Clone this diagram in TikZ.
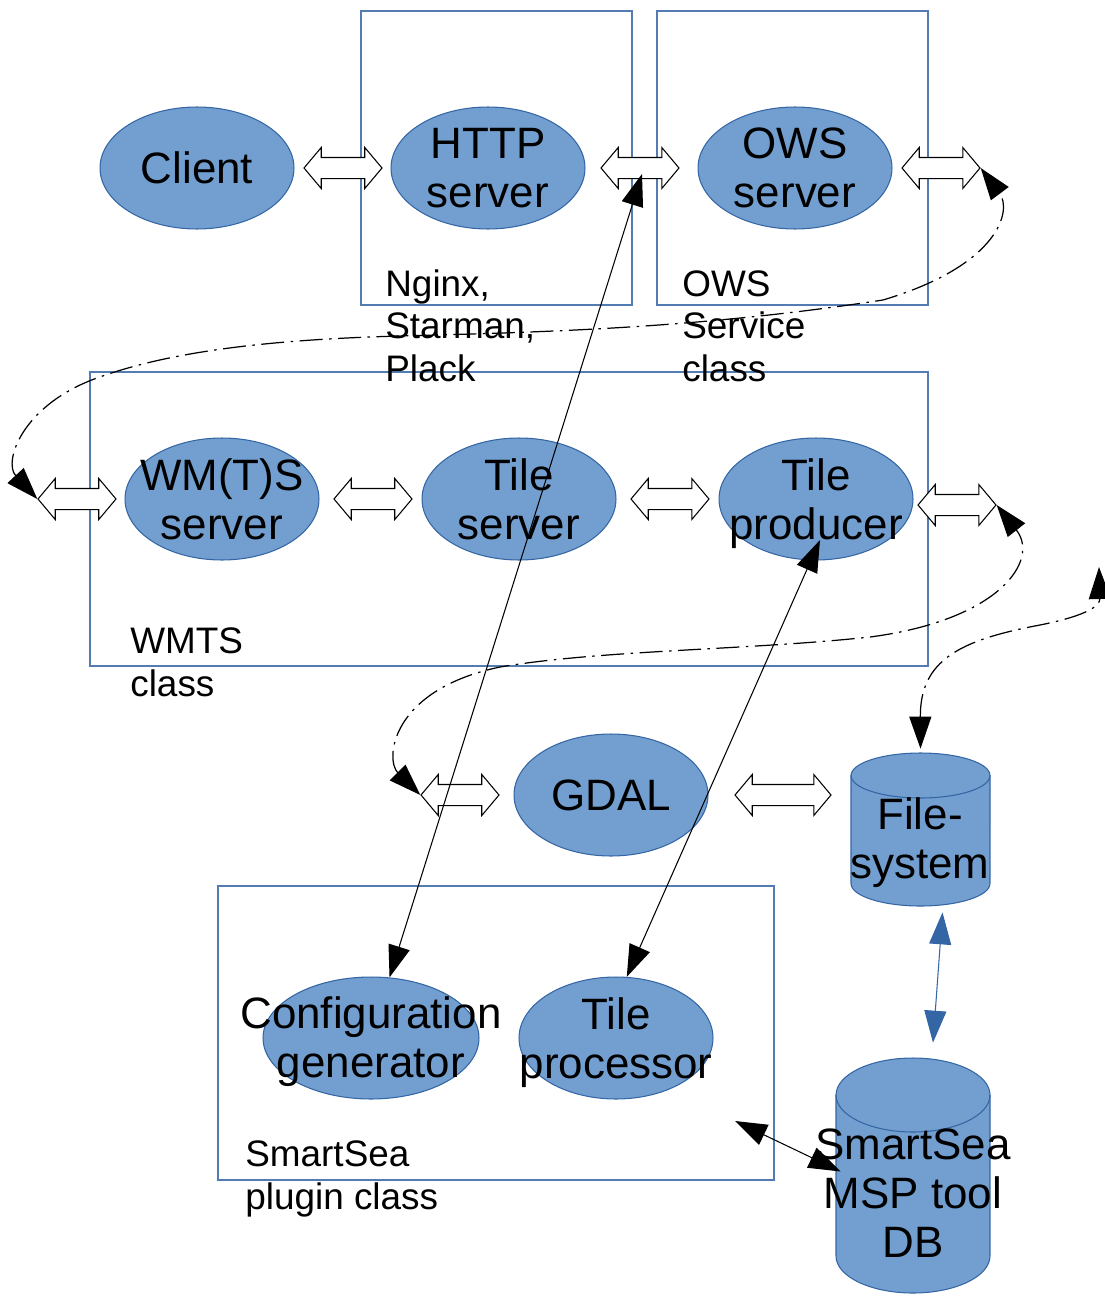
\documentclass[tikz,border=0pt]{standalone}
\usepackage{fontspec}
\setmainfont{Liberation Sans}
\usetikzlibrary{shapes.geometric,shapes.arrows,arrows.meta,calc}
\definecolor{fillblue}{HTML}{729FCF}
\definecolor{lineblue}{HTML}{3465A4}
\begin{document}
\begin{tikzpicture}[
    x=0.02cm, y=-0.02cm,
    frame/.style={draw=lineblue!85, line width=0.6pt},
    blob/.style={ellipse, draw=lineblue, fill=fillblue, line width=0.6pt, minimum width=3.88cm, minimum height=2.44cm, inner sep=0pt},
    can/.style={draw=lineblue, fill=fillblue, line width=0.6pt},
    slot/.style={inner sep=0pt},
    big/.style={font=\fontsize{25}{28}\selectfont, align=center, inner sep=0pt},
    note/.style={font=\fontsize{21}{24}\selectfont, align=left, anchor=base west, inner sep=0pt},
    twin/.style={double arrow, draw=black, fill=white, line width=0.6pt, double arrow head extend=0.2cm, double arrow tip angle=100, inner xsep=0pt, inner ysep=0.2cm, minimum height=1.56cm},
    link/.style={line width=0.6pt, {Triangle[length=0.64cm,width=0.44cm]}-{Triangle[length=0.64cm,width=0.44cm]}},
    dashlink/.style={link, line width=0.7pt, dash pattern=on 0.46cm off 0.13cm on 0.05cm off 0.13cm},
]
\useasboundingbox (0,0) rectangle (1105,1298);

% Frames
\draw[frame] (361,11) rectangle (632,305);
\draw[frame] (657,11) rectangle (928,305);
\draw[frame] (90,372) rectangle (928,666);
\draw[frame] (218,886) rectangle (774,1180);

% Components
\node[blob] (client) at (197,168) {};
\node[blob] (http) at (488,168) {};
\node[blob] (ows) at (795,168) {};
\node[blob] (wms) at (222,499) {};
\node[blob] (tsrv) at (519,499) {};
\node[blob] (prod) at (816,499) {};
\node[blob] (gdal) at (611,795) {};
\node[blob, minimum width=4.32cm] (cfg) at (371,1038) {};
\node[blob] (proc) at (616,1038) {};

% Storage drums
\node[slot, minimum width=2.78cm, minimum height=3.06cm] (fs) at (920.5,829.5) {};
\filldraw[can] (851,775.5) -- (851,883.5) arc[start angle=180, end angle=360, x radius=1.39cm, y radius=0.45cm]
  -- (990,775.5) arc[start angle=0, end angle=180, x radius=1.39cm, y radius=0.45cm] -- cycle;
\draw[can, fill=none] (851,775.5) arc[start angle=180, end angle=360, x radius=1.39cm, y radius=0.45cm];
\node[slot, minimum width=3.08cm, minimum height=4.7cm] (db) at (913,1175.5) {};
\filldraw[can] (836,1095) -- (836,1256) arc[start angle=180, end angle=360, x radius=1.54cm, y radius=0.74cm]
  -- (990,1095) arc[start angle=0, end angle=180, x radius=1.54cm, y radius=0.74cm] -- cycle;
\draw[can, fill=none] (836,1095) arc[start angle=180, end angle=360, x radius=1.54cm, y radius=0.74cm];

% Double arrows
\node[twin] (a1) at (343,168) {};
\node[twin] (a2) at (640,168) {};
\node[twin] (a3) at (941,168) {};
\node[twin] (b1) at (77,499) {};
\node[twin] (b2) at (373,499) {};
\node[twin] (b3) at (670,499) {};
\node[twin] (b4) at (957,505) {};
\node[twin] (c1) at (460,795) {};
\node[twin, minimum height=1.92cm] (c2) at (783,795) {};

% Texts
\node[big] (clientt) at (client) {Client};
\node[big] (httpt) at (http) {HTTP\\server};
\node[big] (owst) at (ows) {OWS\\server};
\node[big] (wmst) at (wms) {WM(T)S\\server};
\node[big] (tsrvt) at (tsrv) {Tile\\server};
\node[big] (prodt) at ($(prod)+(0,5)$) {Tile\\producer};
\node[big] (gdalt) at (gdal) {GDAL};
\node[big] (cfgt) at ($(cfg)+(0,4)$) {Configuration\\generator};
\node[big] (proct) at ($(proc)+(0,5)$) {Tile\\processor};
\node[big] (fst) at (920,843) {File-\\system};
\node[big] (dbt) at (913,1193) {SmartSea\\MSP tool\\DB};

\node[note] (nginx) at (385,381) {Nginx,\\Starman,\\Plack};
\node[note] (owscl) at (682,381) {OWS\\Service\\class};
\node[note] (wmtscl) at (130,696) {WMTS\\class};
\node[note] (plugcl) at (245,1209) {SmartSea\\plugin class};

% Dash-dot links
\draw[dashlink] (b1.west) .. controls (3,462) and (22,405) .. (97,378)
  .. controls (160,355) and (250,340) .. (400,336)
  .. controls (550,332) and (700,328) .. (883,300)
  .. controls (1000,265) and (1012,210) .. (a3.east);
\draw[dashlink] (c1.west) .. controls (385,760) and (390,690) .. (500,667)
  .. controls (600,650) and (750,650) .. (870,637)
  .. controls (1000,620) and (1040,560) .. (b4.east);
\coordinate (away) at (1099,567);
\draw[dashlink] ($(fs.north)+(0,-4)$) .. controls (920,660) and (960,640) .. (1040,625)
  .. controls (1090,615) and (1100,605) .. (away);

% Straight links
\draw[link] (cfg.73) -- ($(a2.center)+(2,6)$);
\draw[link] (proc.80) -- ($(prod.center)+(4,41)$);
\coordinate (procend) at (735,1121);
\draw[link] (procend) -- ($(db.west)+(5,-4)$);
\draw[link, lineblue] ($(fs.south)+(22,6)$) -- ($(db.north)+(20,-15)$);

\end{tikzpicture}
\end{document}
